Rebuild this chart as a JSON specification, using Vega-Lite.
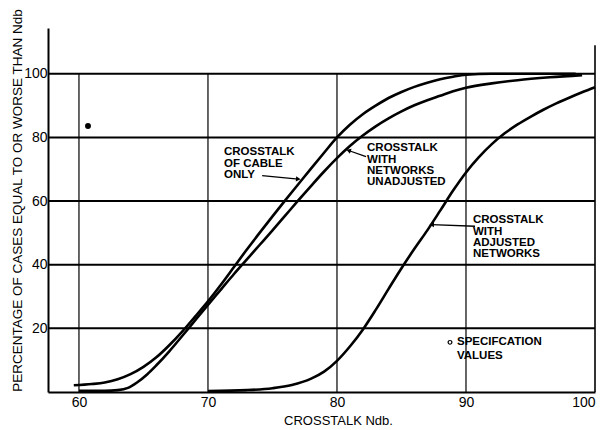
{
  "$schema": "https://vega.github.io/schema/vega-lite/v6.json",
  "width": 547,
  "height": 364,
  "autosize": {"type": "none"},
  "padding": {"left": 48, "top": 28, "right": 15, "bottom": 38},
  "background": "white",
  "config": {
    "view": {"stroke": null},
    "font": "Liberation Sans",
    "text": {"font": "Liberation Sans"}
  },
  "datasets": {
    "curves": [
      {"series": "cable", "x": 59.6, "y": 2.1}, {"series": "cable", "x": 61, "y": 2.5}, {"series": "cable", "x": 62, "y": 3.0},
      {"series": "cable", "x": 63, "y": 4.0}, {"series": "cable", "x": 64, "y": 5.6}, {"series": "cable", "x": 65, "y": 7.9},
      {"series": "cable", "x": 66, "y": 10.9}, {"series": "cable", "x": 67, "y": 14.7}, {"series": "cable", "x": 68, "y": 19.0},
      {"series": "cable", "x": 69, "y": 23.7}, {"series": "cable", "x": 70, "y": 28.5}, {"series": "cable", "x": 71, "y": 33.7},
      {"series": "cable", "x": 72, "y": 39.2}, {"series": "cable", "x": 73, "y": 44.7}, {"series": "cable", "x": 74, "y": 50.0},
      {"series": "cable", "x": 75, "y": 55.2}, {"series": "cable", "x": 76, "y": 60.3}, {"series": "cable", "x": 77, "y": 65.3},
      {"series": "cable", "x": 78, "y": 70.3}, {"series": "cable", "x": 79, "y": 75.2}, {"series": "cable", "x": 80, "y": 80.0},
      {"series": "cable", "x": 81, "y": 84.0}, {"series": "cable", "x": 82, "y": 87.3}, {"series": "cable", "x": 83, "y": 90.0},
      {"series": "cable", "x": 84, "y": 92.4}, {"series": "cable", "x": 85, "y": 94.3}, {"series": "cable", "x": 86, "y": 95.9},
      {"series": "cable", "x": 87, "y": 97.2}, {"series": "cable", "x": 88, "y": 98.3}, {"series": "cable", "x": 89, "y": 99.1},
      {"series": "cable", "x": 90, "y": 99.7}, {"series": "cable", "x": 92, "y": 100}, {"series": "cable", "x": 98.5, "y": 100},
      {"series": "unadj", "x": 60, "y": 0.4}, {"series": "unadj", "x": 62, "y": 0.4}, {"series": "unadj", "x": 63, "y": 0.6},
      {"series": "unadj", "x": 63.8, "y": 1.3}, {"series": "unadj", "x": 64.5, "y": 3.0}, {"series": "unadj", "x": 65.3, "y": 5.6},
      {"series": "unadj", "x": 66, "y": 8.4}, {"series": "unadj", "x": 67, "y": 12.8}, {"series": "unadj", "x": 68, "y": 17.6},
      {"series": "unadj", "x": 69, "y": 22.5}, {"series": "unadj", "x": 70, "y": 27.4}, {"series": "unadj", "x": 71, "y": 32.2},
      {"series": "unadj", "x": 72, "y": 37.0}, {"series": "unadj", "x": 73, "y": 41.6}, {"series": "unadj", "x": 74, "y": 46.2},
      {"series": "unadj", "x": 75, "y": 50.8}, {"series": "unadj", "x": 76, "y": 55.5}, {"series": "unadj", "x": 77, "y": 60.2},
      {"series": "unadj", "x": 78, "y": 64.8}, {"series": "unadj", "x": 79, "y": 69.3}, {"series": "unadj", "x": 80, "y": 73.5},
      {"series": "unadj", "x": 81, "y": 77.3}, {"series": "unadj", "x": 82, "y": 80.6}, {"series": "unadj", "x": 83, "y": 83.5},
      {"series": "unadj", "x": 84, "y": 86.0}, {"series": "unadj", "x": 85, "y": 88.2}, {"series": "unadj", "x": 86, "y": 90.1},
      {"series": "unadj", "x": 87, "y": 91.7}, {"series": "unadj", "x": 88, "y": 93.1}, {"series": "unadj", "x": 89, "y": 94.5},
      {"series": "unadj", "x": 90, "y": 95.6}, {"series": "unadj", "x": 92, "y": 97.0}, {"series": "unadj", "x": 94, "y": 98.0},
      {"series": "unadj", "x": 96.5, "y": 98.9}, {"series": "unadj", "x": 99, "y": 99.6},
      {"series": "adj", "x": 70, "y": 0.3}, {"series": "adj", "x": 73, "y": 0.6}, {"series": "adj", "x": 75, "y": 1.2},
      {"series": "adj", "x": 76.5, "y": 2.2}, {"series": "adj", "x": 78, "y": 4.2}, {"series": "adj", "x": 79, "y": 6.4},
      {"series": "adj", "x": 80, "y": 9.8}, {"series": "adj", "x": 81, "y": 14.3}, {"series": "adj", "x": 82, "y": 19.6},
      {"series": "adj", "x": 83, "y": 25.8}, {"series": "adj", "x": 84, "y": 32.4}, {"series": "adj", "x": 85, "y": 38.9},
      {"series": "adj", "x": 86, "y": 45.0}, {"series": "adj", "x": 87, "y": 50.8}, {"series": "adj", "x": 88, "y": 57.0},
      {"series": "adj", "x": 89, "y": 63.3}, {"series": "adj", "x": 90, "y": 69.0}, {"series": "adj", "x": 91, "y": 73.8},
      {"series": "adj", "x": 92, "y": 77.9}, {"series": "adj", "x": 93, "y": 81.3}, {"series": "adj", "x": 94, "y": 84.1},
      {"series": "adj", "x": 95, "y": 86.5}, {"series": "adj", "x": 96, "y": 88.7}, {"series": "adj", "x": 97, "y": 90.7},
      {"series": "adj", "x": 98, "y": 92.5}, {"series": "adj", "x": 99, "y": 94.2}, {"series": "adj", "x": 100, "y": 95.8}
    ],
    "hgrid": [{"y": 20}, {"y": 40}, {"y": 60}, {"y": 80}, {"y": 100}],
    "vgrid": [{"x": 60}, {"x": 70}, {"x": 80}, {"x": 90}],
    "border": [{"x": 100, "y0": 0, "y1": 109}],
    "labels": [
      {"x": 71.24, "y": 75.5, "t": "CROSSTALK"},
      {"x": 71.24, "y": 71.6, "t": "OF CABLE"},
      {"x": 71.24, "y": 68.1, "t": "ONLY"},
      {"x": 82.33, "y": 76.7, "t": "CROSSTALK"},
      {"x": 82.33, "y": 73.0, "t": "WITH"},
      {"x": 82.33, "y": 69.5, "t": "NETWORKS"},
      {"x": 82.33, "y": 66.1, "t": "UNADJUSTED"},
      {"x": 90.54, "y": 54.1, "t": "CROSSTALK"},
      {"x": 90.54, "y": 50.3, "t": "WITH"},
      {"x": 90.54, "y": 46.9, "t": "ADJUSTED"},
      {"x": 90.54, "y": 43.5, "t": "NETWORKS"},
      {"x": 89.3, "y": 15.6, "t": "SPECIFCATION"},
      {"x": 89.3, "y": 11.2, "t": "VALUES"}
    ],
    "arrows": [
      {"id": "a1", "x0": 74.2, "y0": 68.0, "x1": 77.0, "y1": 66.9},
      {"id": "a2", "x0": 82.25, "y0": 74.0, "x1": 80.9, "y1": 75.9},
      {"id": "a3", "x0": 90.7, "y0": 52.1, "x1": 87.34, "y1": 52.6}
    ],
    "dot": [{"x": 60.7, "y": 83.6}],
    "spec": [{"x": 88.76, "y": 15.6}]
  },
  "layer": [
    {
      "data": {"name": "hgrid"},
      "mark": {"type": "rule", "color": "black", "strokeWidth": 2},
      "encoding": {
        "y": {"field": "y", "type": "quantitative", "scale": {"domain": [0, 114.4], "nice": false, "zero": false},
          "axis": {"values": [20, 40, 60, 80, 100], "grid": false, "ticks": false, "labelPadding": 1, "labelFontSize": 14, "labelColor": "black", "labelFont": "Liberation Sans",
            "domainColor": "black", "domainWidth": 2,
            "title": "PERCENTAGE OF CASES EQUAL TO OR WORSE THAN Ndb", "titleFontSize": 13.5, "titleFontWeight": "normal", "titleColor": "black",
            "titleX": -31, "titleY": 172, "titleAngle": -90, "titleAlign": "center", "titleBaseline": "middle"}},
        "x": {"datum": 57.6, "type": "quantitative", "scale": {"domain": [57.6, 100], "nice": false, "zero": false},
          "axis": {"values": [60, 70, 80, 90, 100], "grid": false, "ticks": false, "labelPadding": 3, "labelFontSize": 14, "labelColor": "black", "labelFont": "Liberation Sans",
            "domainColor": "black", "domainWidth": 2,
            "title": "CROSSTALK Ndb.", "titleFontSize": 13, "titleFontWeight": "normal", "titleColor": "black",
            "titleX": 290, "titleY": 28, "titleAlign": "center", "titleBaseline": "middle"}},
        "x2": {"datum": 100}
      }
    },
    {
      "data": {"name": "vgrid"},
      "mark": {"type": "rule", "color": "black", "strokeWidth": 1.2},
      "encoding": {
        "x": {"field": "x", "type": "quantitative"},
        "y": {"datum": 0, "type": "quantitative"},
        "y2": {"datum": 100}
      }
    },
    {
      "data": {"name": "border"},
      "mark": {"type": "rule", "color": "black", "strokeWidth": 1.6},
      "encoding": {
        "x": {"field": "x", "type": "quantitative"},
        "y": {"field": "y0", "type": "quantitative"},
        "y2": {"field": "y1"}
      }
    },
    {
      "data": {"name": "curves"},
      "mark": {"type": "line", "color": "black", "strokeWidth": 2.6, "interpolate": "monotone"},
      "encoding": {
        "x": {"field": "x", "type": "quantitative"},
        "y": {"field": "y", "type": "quantitative"},
        "detail": {"field": "series", "type": "nominal"}
      }
    },
    {
      "data": {"name": "labels"},
      "mark": {"type": "text", "align": "left", "baseline": "middle", "fontSize": 11.5, "fontWeight": "bold", "color": "black", "font": "Liberation Sans"},
      "encoding": {
        "x": {"field": "x", "type": "quantitative"},
        "y": {"field": "y", "type": "quantitative"},
        "text": {"field": "t"}
      }
    },
    {
      "data": {"name": "arrows"},
      "mark": {"type": "rule", "color": "black", "strokeWidth": 1.3},
      "encoding": {
        "x": {"field": "x0", "type": "quantitative"},
        "y": {"field": "y0", "type": "quantitative"},
        "x2": {"field": "x1"},
        "y2": {"field": "y1"}
      }
    },
    {
      "data": {"name": "arrows"},
      "transform": [{"filter": "datum.id == 'a1'"}],
      "mark": {"type": "point", "shape": "triangle-up", "filled": true, "color": "black", "size": 28, "angle": 95, "opacity": 1},
      "encoding": {
        "x": {"field": "x1", "type": "quantitative"},
        "y": {"field": "y1", "type": "quantitative"}
      }
    },
    {
      "data": {"name": "arrows"},
      "transform": [{"filter": "datum.id == 'a2'"}],
      "mark": {"type": "point", "shape": "triangle-up", "filled": true, "color": "black", "size": 28, "angle": 289, "opacity": 1},
      "encoding": {
        "x": {"field": "x1", "type": "quantitative"},
        "y": {"field": "y1", "type": "quantitative"}
      }
    },
    {
      "data": {"name": "arrows"},
      "transform": [{"filter": "datum.id == 'a3'"}],
      "mark": {"type": "point", "shape": "triangle-up", "filled": true, "color": "black", "size": 28, "angle": 272, "opacity": 1},
      "encoding": {
        "x": {"field": "x1", "type": "quantitative"},
        "y": {"field": "y1", "type": "quantitative"}
      }
    },
    {
      "data": {"name": "dot"},
      "mark": {"type": "point", "shape": "circle", "filled": true, "color": "black", "size": 35, "opacity": 1},
      "encoding": {
        "x": {"field": "x", "type": "quantitative"},
        "y": {"field": "y", "type": "quantitative"}
      }
    },
    {
      "data": {"name": "spec"},
      "mark": {"type": "point", "shape": "circle", "filled": false, "color": "black", "size": 14, "strokeWidth": 1.2, "opacity": 1},
      "encoding": {
        "x": {"field": "x", "type": "quantitative"},
        "y": {"field": "y", "type": "quantitative"}
      }
    }
  ]
}
